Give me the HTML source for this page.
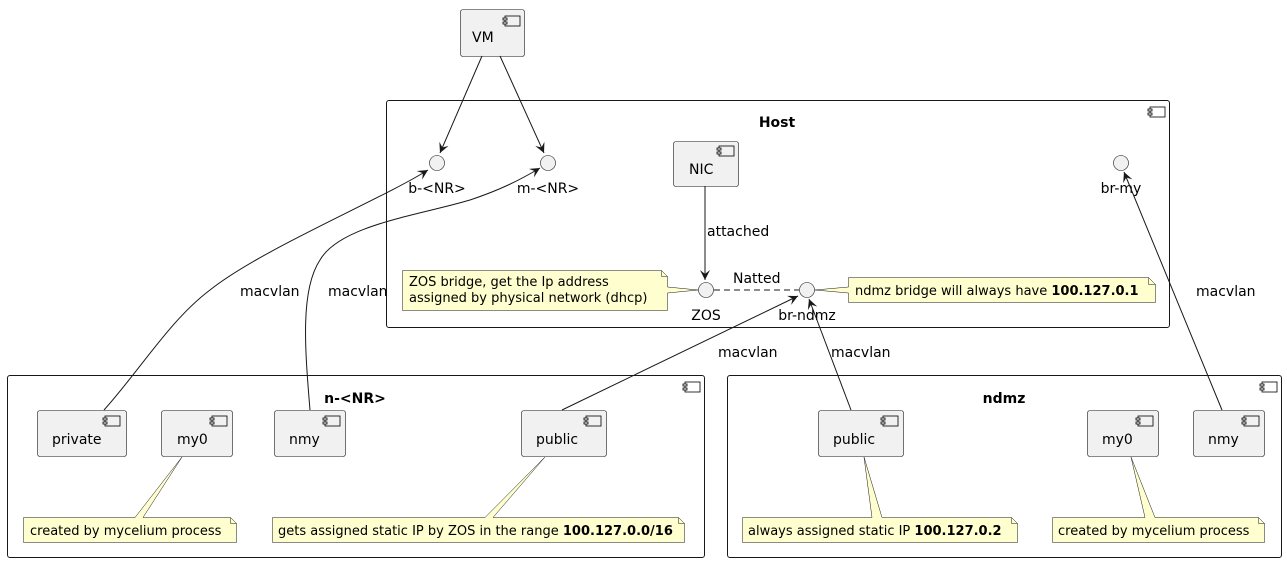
<!DOCTYPE html>
<html><head><meta charset="utf-8"><style>
html,body{margin:0;padding:0;background:#fff;width:1287px;height:563px;overflow:hidden}
text{font-family:"DejaVu Sans","Liberation Sans",sans-serif;fill:#000}
</style></head><body>
<svg width="1287" height="563" viewBox="0 0 1287 563" xmlns="http://www.w3.org/2000/svg">
<defs>
<symbol id="ic" overflow="visible"><rect x="0" y="0" width="15" height="10" fill="none" stroke="#000" stroke-width="0.8"/><rect x="-2" y="2" width="4" height="2" fill="#fff" stroke="#000" stroke-width="0.8"/><rect x="-2" y="6" width="4" height="2" fill="#fff" stroke="#000" stroke-width="0.8"/></symbol>
<marker id="ar" markerWidth="12" markerHeight="10" refX="10" refY="5" orient="auto" markerUnits="userSpaceOnUse"><path d="M0,0 L10,5 L0,10 L4,5 Z" fill="#181818"/></marker>
</defs>
<g stroke="#181818" fill="none" stroke-width="1">
<rect x="386.5" y="100.5" width="783" height="227" rx="2.5"/>
<rect x="7.5" y="375.5" width="697" height="182" rx="2.5"/>
<rect x="727.5" y="375.5" width="554" height="182" rx="2.5"/>
</g>
<use href="#ic" x="1150" y="107"/><use href="#ic" x="685" y="382"/><use href="#ic" x="1262" y="382"/>
<text x="777" y="127" font-weight="bold" font-size="14" text-anchor="middle">Host</text>
<text x="355" y="403" font-weight="bold" font-size="14" text-anchor="middle">n-&lt;NR&gt;</text>
<text x="1004" y="403" font-weight="bold" font-size="14" text-anchor="middle">ndmz</text>
<g fill="#f1f1f1" stroke="#181818" stroke-width="0.6">
<rect x="460.5" y="9.5" width="64" height="47" rx="2.5"/>
<rect x="673.5" y="141.5" width="65" height="45" rx="2.5"/>
<rect x="37.5" y="410.5" width="89" height="46" rx="2.5"/>
<rect x="161.5" y="410.5" width="71" height="46" rx="2.5"/>
<rect x="274.5" y="410.5" width="71" height="46" rx="2.5"/>
<rect x="521.5" y="410.5" width="85" height="46" rx="2.5"/>
<rect x="818.5" y="410.5" width="85" height="46" rx="2.5"/>
<rect x="1087.5" y="410.5" width="71" height="46" rx="2.5"/>
<rect x="1193.5" y="410.5" width="71" height="46" rx="2.5"/>
</g>
<use href="#ic" x="505" y="16"/><use href="#ic" x="719" y="146"/>
<use href="#ic" x="105" y="416"/><use href="#ic" x="212" y="416"/><use href="#ic" x="325" y="416"/><use href="#ic" x="586" y="416"/>
<use href="#ic" x="883" y="416"/><use href="#ic" x="1138" y="416"/><use href="#ic" x="1244" y="416"/>
<g font-size="14">
<text x="472" y="42">VM</text>
<text x="689" y="174">NIC</text>
<text x="52" y="444">private</text>
<text x="177" y="444">my0</text>
<text x="289" y="444">nmy</text>
<text x="536" y="444">public</text>
<text x="833" y="444">public</text>
<text x="1102" y="444">my0</text>
<text x="1208" y="444">nmy</text>
</g>
<g fill="#f1f1f1" stroke="#181818" stroke-width="0.6">
<circle cx="437" cy="163" r="7.5"/><circle cx="548" cy="163" r="7.5"/><circle cx="1121" cy="163" r="7.5"/>
<circle cx="706" cy="290" r="7.5"/><circle cx="807" cy="290" r="7.5"/>
</g>
<g font-size="14" text-anchor="middle">
<text x="437" y="193">b-&lt;NR&gt;</text><text x="548" y="193">m-&lt;NR&gt;</text><text x="1121" y="193">br-my</text>
<text x="706" y="320">ZOS</text><text x="807" y="320">br-ndmz</text>
</g>
<g fill="#fefece" stroke="#181818" stroke-width="0.5">
<path d="M402.5,270.5 H661.5 L667.5,276.5 V287 L698,290 L667.5,293 V310.5 H402.5 Z"/>
<path d="M848.5,277.5 H1148.5 L1155.5,284.5 V302.5 H848.5 V293 L815,290 L848.5,287 Z"/>
<path d="M23.5,517.5 H135 L182,457 L143,517.5 H230.5 L236.5,523.5 V542.5 H23.5 Z"/>
<path d="M272.5,517.5 H485 L545,457 L493,517.5 H678.5 L684.5,523.5 V542.5 H272.5 Z"/>
<path d="M742.5,517.5 H872 L864,457 L882,517.5 H1011.5 L1017.5,523.5 V542.5 H742.5 Z"/>
<path d="M1052.5,517.5 H1145 L1131,457 L1155,517.5 H1258.5 L1264.5,523.5 V542.5 H1052.5 Z"/>
</g>
<g fill="none" stroke="#181818" stroke-width="0.5">
<path d="M661.5,270.5 V276.5 H667.5"/><path d="M1148.5,277.5 V284.5 H1155.5"/>
<path d="M230.5,517.5 V523.5 H236.5"/><path d="M678.5,517.5 V523.5 H684.5"/>
<path d="M1011.5,517.5 V523.5 H1017.5"/><path d="M1258.5,517.5 V523.5 H1264.5"/>
</g>
<g font-size="13">
<text x="409" y="286">ZOS bridge, get the Ip address</text>
<text x="409" y="302">assigned by physical network (dhcp)</text>
<text x="855" y="295">ndmz bridge will always have <tspan font-weight="bold">100.127.0.1</tspan></text>
<text x="30" y="535">created by mycelium process</text>
<text x="278" y="535">gets assigned static IP by ZOS in the range <tspan font-weight="bold">100.127.0.0/16</tspan></text>
<text x="748" y="535">always assigned static IP <tspan font-weight="bold">100.127.0.2</tspan></text>
<text x="1058" y="535">created by mycelium process</text>
</g>
<g fill="none" stroke="#181818" stroke-width="1">
<path d="M482,56 L440,153" marker-end="url(#ar)"/>
<path d="M500,56 L544,153" marker-end="url(#ar)"/>
<path d="M705,186 L705,280" marker-end="url(#ar)"/>
<path d="M714,290 L799,290" stroke-dasharray="6,4"/>
<path d="M104,410 C140,370 170,320 210,290 C260,250 380,200 428,170" marker-end="url(#ar)"/>
<path d="M310,410 C305,350 300,290 320,260 C340,225 420,215 470,200 C500,190 520,180 540,168" marker-end="url(#ar)"/>
<path d="M562,410 L798,296" marker-end="url(#ar)"/>
<path d="M851,410 L809,299" marker-end="url(#ar)"/>
<path d="M1222,410 L1124,172" marker-end="url(#ar)"/>
</g>
<g font-size="14">
<text x="707" y="236">attached</text>
<text x="733" y="283">Natted</text>
<text x="240" y="296">macvlan</text>
<text x="328" y="296">macvlan</text>
<text x="718" y="357">macvlan</text>
<text x="831" y="357">macvlan</text>
<text x="1196" y="296">macvlan</text>
</g>
</svg>
</body></html>
